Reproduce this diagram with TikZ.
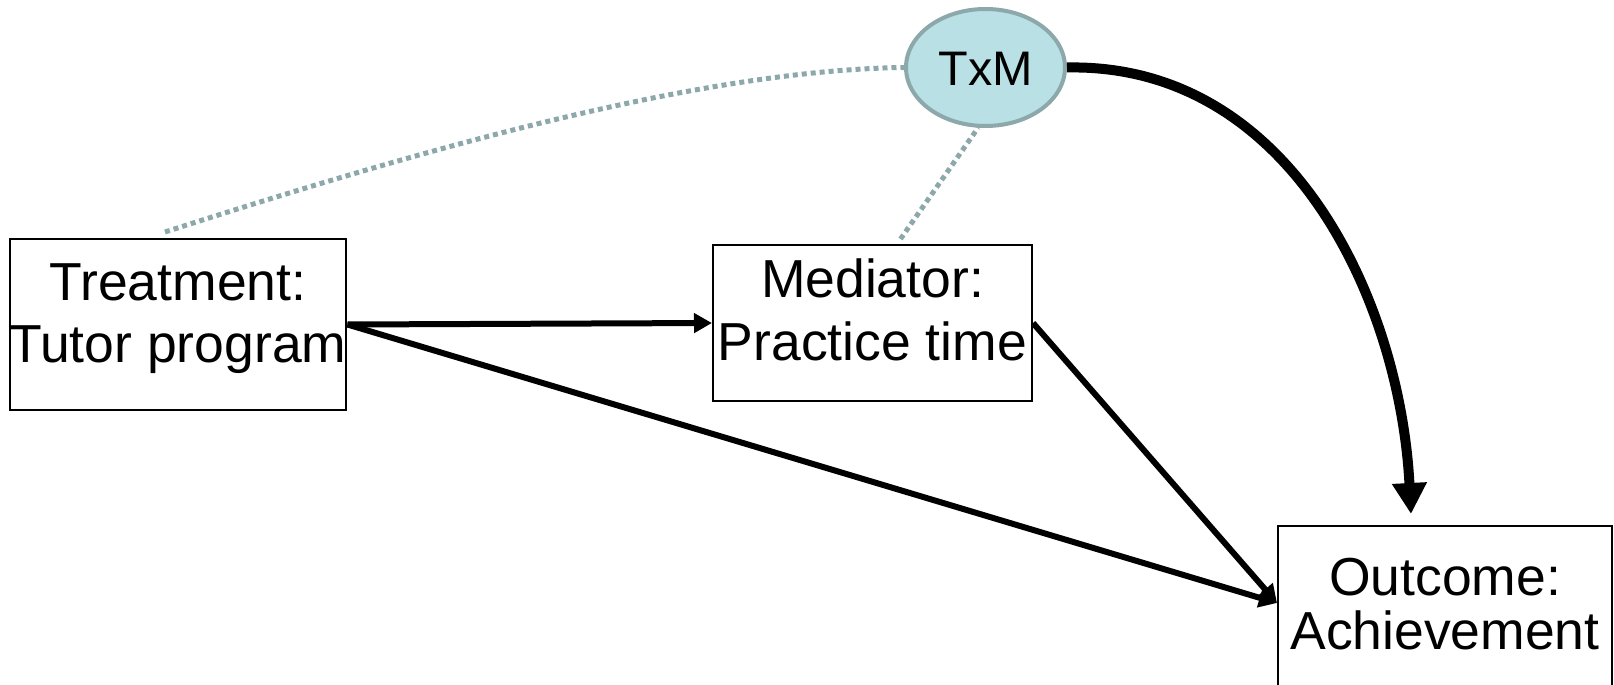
\documentclass[tikz,border=0pt]{standalone}
\usepackage{fontspec}
\setmainfont{Liberation Sans}
\usetikzlibrary{arrows.meta,shapes.geometric,calc}
\definecolor{txmfill}{RGB}{185,224,228}
\definecolor{txmline}{RGB}{140,168,170}
\begin{document}
\begin{tikzpicture}[x=1pt,y=-1pt,
  box/.style={draw=black, line width=2pt, fill=white, inner sep=0pt, align=center},
  thinarrow/.style={line width=6pt, -{Triangle[length=18pt,width=19pt]}},
  thickarrow/.style={line width=10pt, -{Triangle[length=31pt,width=33pt]}},
  dotline/.style={draw=txmline, line width=5pt, dash pattern=on 5pt off 4pt}]
\useasboundingbox (0,0) rectangle (1614,685);

\node[box, minimum width=334pt, minimum height=171pt, text height=100pt, text depth=25pt,
      font=\fontsize{53.5pt}{62pt}\selectfont] (treat) at (178,324.5) {Treatment:\\Tutor program};
\node[box, minimum width=319pt, minimum height=156pt, text height=101pt, text depth=27pt,
      font=\fontsize{53.5pt}{63pt}\selectfont] (med) at (872.5,323) {Mediator:\\Practice time};
\node[box, minimum width=334pt, minimum height=200pt, text height=92pt, text depth=46pt, anchor=north west,
      font=\fontsize{53.5pt}{54pt}\selectfont] (out) at (1277,525) {Outcome:\\Achievement};
\node[ellipse, draw=txmline, fill=txmfill, line width=4pt, minimum width=159pt, minimum height=117pt,
      inner sep=0pt, text height=35pt, text depth=0pt,
      font=\fontsize{48.5pt}{50pt}\selectfont] (txm) at (985.5,67.5) {TxM};

\coordinate (outin) at ($(out.north west)+(0,78)$);
\coordinate (outtop) at ($(out.north)+(-34,-11)$);

\draw[thinarrow] (treat.east) -- (med.west);
\draw[thinarrow] (treat.east) -- (outin);
\draw[thinarrow] (med.east) -- (outin);
\draw[thickarrow] (txm.east) .. controls (1290,63) and (1400,300) .. (outtop);

\draw[dotline] ($(treat.north)+(-13,-6)$) .. controls (420,150) and (700,70) .. (txm.west);
\draw[dotline] ($(med.north)+(28,-5)$) -- (txm.263);
\end{tikzpicture}
\end{document}
